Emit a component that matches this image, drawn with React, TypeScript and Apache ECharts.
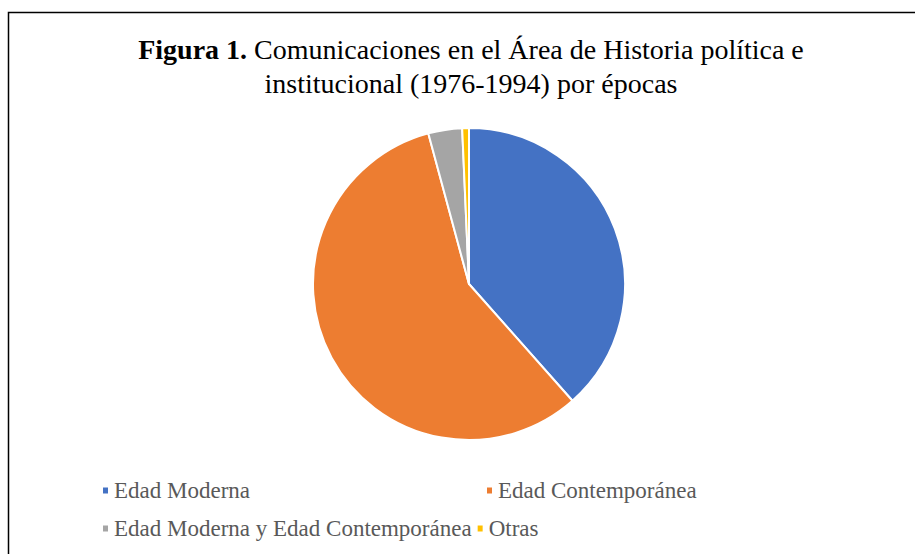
import React, { useEffect, useRef } from "react";
import * as echarts from "echarts";

const categories = [
  "Edad Moderna",
  "Edad Contemporánea",
  "Edad Moderna y Edad Contemporánea",
  "Otras",
];
const values = [110, 164, 10, 2];
const colors = ["#4472C4", "#ED7D31", "#A5A5A5", "#FFC000"];

export default function App() {
  const ref = useRef<HTMLDivElement>(null);
  useEffect(() => {
    if (!ref.current) return;
    const chart = echarts.init(ref.current, null, { renderer: "svg" });
    const font = "Liberation Serif";
    const legendText = { color: "#595959", fontSize: 23, fontFamily: font };
    chart.setOption({
      animation: false,
      backgroundColor: "#ffffff",
      title: {
        text:
          "{b|Figura 1.} Comunicaciones en el Área de Historia política e\ninstitucional (1976-1994) por épocas",
        left: 466,
        top: 27,
        textAlign: "center",
        textStyle: {
          fontFamily: font,
          fontSize: 28,
          fontWeight: "normal",
          color: "#000",
          lineHeight: 34,
          rich: {
            b: { fontFamily: font, fontSize: 28, fontWeight: "bold", color: "#000", lineHeight: 34 },
          },
        },
      },
      graphic: [
        {
          type: "rect",
          shape: { x: 8.5, y: 12.5, width: 1000, height: 700 },
          style: { fill: "none", stroke: "#000", lineWidth: 1.5 },
          silent: true,
          z: -1,
        },
      ],
      legend: [
        {
          data: [categories[0]],
          left: 96,
          top: 474,
          icon: "rect",
          itemWidth: 7,
          itemHeight: 8,
          textStyle: legendText,
        },
        {
          data: [categories[1]],
          left: 480,
          top: 474,
          icon: "rect",
          itemWidth: 7,
          itemHeight: 8,
          textStyle: legendText,
        },
        {
          data: [categories[2], categories[3]],
          left: 96,
          top: 512,
          itemGap: 4,
          icon: "rect",
          itemWidth: 7,
          itemHeight: 8,
          textStyle: legendText,
        },
      ],
      series: [
        {
          type: "pie",
          center: [469, 284],
          radius: 156,
          startAngle: 90,
          clockwise: true,
          label: { show: false },
          labelLine: { show: false },
          emphasis: { disabled: true },
          itemStyle: { borderColor: "#ffffff", borderWidth: 2 },
          data: categories.map((c, i) => ({
            name: c,
            value: values[i],
            itemStyle: { color: colors[i] },
          })),
        },
      ],
    });
    return () => chart.dispose();
  }, []);
  return (
    <div
      ref={ref}
      style={{ position: "fixed", left: 0, top: 0, width: 915, height: 554 }}
    />
  );
}
